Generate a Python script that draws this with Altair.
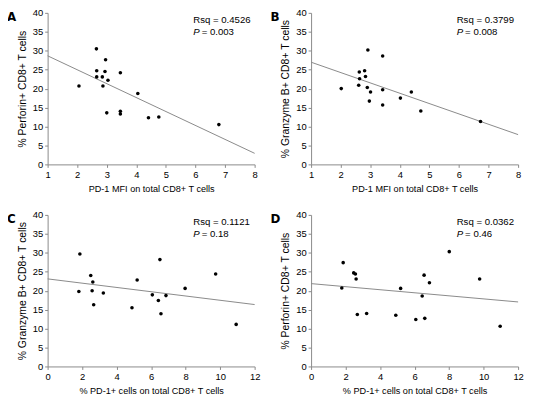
import altair as alt
import pandas as pd

# ---- data ----
A_x = [2.06, 2.65, 2.66, 2.66, 2.85, 2.87, 2.94, 2.96, 3.00, 3.04, 3.46, 3.46, 3.46, 4.05, 4.41, 4.76, 6.79]
A_y = [20.7, 30.5, 24.7, 23.1, 23.1, 20.7, 24.5, 27.6, 13.6, 22.2, 24.2, 14.0, 13.3, 18.7, 12.3, 12.5, 10.5]

B_x = [2.02, 2.61, 2.63, 2.64, 2.81, 2.84, 2.90, 2.92, 2.97, 3.01, 3.42, 3.42, 3.42, 4.02, 4.39, 4.71, 6.73]
B_y = [20.0, 20.9, 24.4, 22.6, 24.7, 23.2, 20.3, 30.2, 16.7, 19.1, 28.6, 19.7, 15.7, 17.5, 19.1, 14.1, 11.3]

C_x = [1.81, 1.87, 2.50, 2.58, 2.62, 2.67, 3.23, 4.89, 5.19, 6.07, 6.42, 6.51, 6.57, 6.86, 7.97, 9.74, 10.93]
C_y = [19.8, 29.7, 24.0, 20.0, 22.3, 16.3, 19.4, 15.5, 22.8, 18.9, 17.4, 28.2, 13.9, 18.7, 20.6, 24.4, 11.1]

D_x = [1.78, 1.86, 2.47, 2.57, 2.61, 2.68, 3.22, 4.91, 5.19, 6.07, 6.44, 6.55, 6.59, 6.86, 8.01, 9.77, 10.96]
D_y = [20.7, 27.4, 24.7, 24.4, 23.1, 13.7, 14.0, 13.5, 20.6, 12.4, 18.6, 24.1, 12.7, 22.1, 30.3, 23.1, 10.6]

letters = ["A", "B", "C", "D"]
rsq_labels = ["Rsq = 0.4526", "Rsq = 0.3799", "Rsq = 0.1121", "Rsq = 0.0362"]
p_labels = ["= 0.003", "= 0.008", "= 0.18", "= 0.46"]
x_titles = ["PD-1 MFI on total CD8+ T cells", "PD-1 MFI on total CD8+ T cells",
            "% PD-1+ cells on total CD8+ T cells", "% PD-1+ cells on total CD8+ T cells"]
y_titles = ["% Perforin+ CD8+ T cells", "% Granzyme B+ CD8+ T cells",
            "% Granzyme B+ CD8+ T cells", "% Perforin+ CD8+ T cells"]
x_domains = [[1, 8], [1, 8], [0, 12], [0, 12]]
x_ticks = [[1, 2, 3, 4, 5, 6, 7, 8], [1, 2, 3, 4, 5, 6, 7, 8],
           [0, 2, 4, 6, 8, 10, 12], [0, 2, 4, 6, 8, 10, 12]]
y_ticks = [0, 5, 10, 15, 20, 25, 30, 35, 40]

FONT = "Liberation Sans"
GREY = "#8a8a8a"


def panel(i, xs, ys):
    df = pd.DataFrame({"x": xs, "y": ys})
    xsc = alt.Scale(domain=x_domains[i], nice=False, zero=False)
    ysc = alt.Scale(domain=[0, 40], nice=False)
    xax = alt.Axis(values=x_ticks[i], title=x_titles[i], titleFontSize=9.2,
                   titlePadding=6, labelOverlap=False, tickCount=len(x_ticks[i]))
    yax = alt.Axis(values=y_ticks, title=y_titles[i], titleFontSize=10.5,
                   titlePadding=5, labelOverlap=False, tickCount=len(y_ticks))
    enc = dict(x=alt.X("x:Q", scale=xsc, axis=xax), y=alt.Y("y:Q", scale=ysc, axis=yax))
    base = alt.Chart(df)
    pts = base.mark_circle(color="black", size=13, opacity=1).encode(**enc)
    line = base.transform_regression("x", "y", extent=x_domains[i]).mark_line(
        color=GREY, strokeWidth=1
    ).encode(**enc)

    ann = pd.DataFrame({"letter": [letters[i]], "rsq": [rsq_labels[i]],
                        "p": ["P"], "pv": [p_labels[i]]})
    ab = alt.Chart(ann)
    letter = ab.mark_text(font="DejaVu Sans", fontSize=12, fontWeight="bold",
                          align="left", baseline="alphabetic", color="black").encode(
        x=alt.value(-41), y=alt.value(8.5), text="letter:N")
    rsq = ab.mark_text(font=FONT, fontSize=9.7, align="left", baseline="middle",
                       color="black").encode(
        x=alt.value(147), y=alt.value(6.8), text="rsq:N")
    pit = ab.mark_text(font=FONT, fontSize=9.7, fontStyle="italic", align="left",
                       baseline="middle", color="black").encode(
        x=alt.value(147), y=alt.value(19.5), text="p:N")
    pv = ab.mark_text(font=FONT, fontSize=9.7, align="left", baseline="middle",
                      color="black").encode(
        x=alt.value(155.5), y=alt.value(19.5), text="pv:N")
    return alt.layer(line, pts, letter, rsq, pit, pv).properties(width=209, height=153)


chart = alt.concat(
    panel(0, A_x, A_y), panel(1, B_x, B_y), panel(2, C_x, C_y), panel(3, D_x, D_y),
    columns=2, spacing={"row": 51, "column": 57}, bounds="flush",
).properties(
    padding={"left": -1, "top": -2, "right": 5, "bottom": 5}
).configure_view(
    strokeWidth=0
).configure_axis(
    grid=False, domainColor=GREY, tickColor=GREY, tickSize=3, labelPadding=2,
    labelFont=FONT, labelFontSize=9.5, labelColor="black",
    labelOverlap=False, labelFlush=False, labelBound=False,
    titleFont=FONT, titleFontWeight="normal", titleColor="black",
)

chart.save("out.html", embed_options={"renderer": "svg", "actions": False})
